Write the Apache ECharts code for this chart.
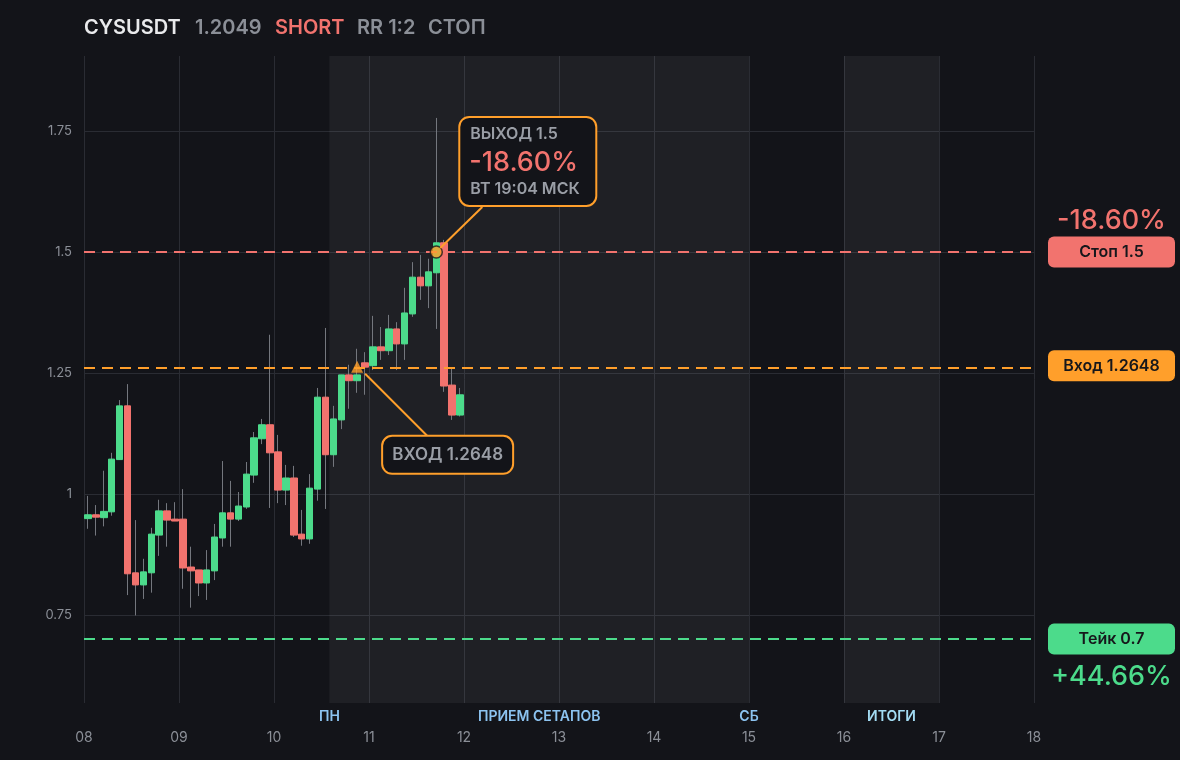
<!DOCTYPE html>
<html><head><meta charset="utf-8">
<script src="https://cdn.jsdelivr.net/npm/echarts@6/dist/echarts.min.js"></script>
<style>html,body{margin:0;padding:0;background:#131419;}#c{width:1180px;height:760px;}</style>
</head><body><div id="c"></div>
<script>
// time of each 2h candle, hours from 08 00:00 (candle centre)
const hours = [1,3,5,7,9,11,13,15,17,19,21,23,25,27,29,31,33,35,37,39,41,43,45,47,
               49,51,53,55,57,59,61,63,65,67,69,71,73,75,77,79,81,83,85,87,89,91,93,95];
const openV  = [0.949,0.957,0.951,0.963,1.071,1.182,0.837,0.812,0.837,0.915,0.965,0.948,
                0.948,0.849,0.843,0.816,0.841,0.909,0.961,0.948,0.973,1.039,1.114,1.143,
                1.087,1.008,1.033,0.917,0.907,1.010,1.200,1.081,1.153,1.246,1.234,1.271,
                1.265,1.304,1.296,1.341,1.310,1.372,1.448,1.430,1.457,1.519,1.225,1.163];
const closeV = [0.957,0.952,0.964,1.072,1.182,0.835,0.812,0.839,0.917,0.965,0.946,0.944,
                0.847,0.841,0.816,0.843,0.911,0.961,0.948,0.975,1.041,1.116,1.143,1.085,
                1.008,1.033,0.915,0.907,1.012,1.200,1.081,1.155,1.246,1.234,1.246,1.262,
                1.304,1.296,1.341,1.310,1.374,1.448,1.430,1.459,1.519,1.223,1.163,1.2049];
const lowV   = [0.928,0.914,0.933,0.955,1.071,0.791,0.749,0.783,0.796,0.872,0.891,0.944,
                0.804,0.765,0.789,0.781,0.822,0.891,0.891,0.944,0.969,1.023,1.103,0.971,
                0.981,0.977,0.911,0.893,0.897,0.986,0.969,1.056,1.134,1.176,1.209,1.205,
                1.256,1.277,1.287,1.256,1.277,1.366,1.401,1.384,1.341,1.211,1.153,1.160];
const highV  = [0.996,0.977,1.048,1.085,1.194,1.227,0.946,0.866,0.930,0.988,0.981,0.983,
                1.010,0.891,0.843,0.884,0.938,1.068,1.027,1.004,1.066,1.128,1.155,1.329,
                1.122,1.060,1.058,0.967,1.041,1.219,1.343,1.182,1.246,1.267,1.300,1.293,
                1.368,1.345,1.370,1.355,1.426,1.479,1.494,1.486,1.777,1.525,1.262,1.219];

const dayLabels = ['08','09','10','11','12','13','14','15','16','17','18'];
const yTicks = [0.75, 1, 1.25, 1.5, 1.75];

const entryPrice = 1.2648, entryHour = 69;
const stopPrice = 1.5, exitHour = 89;
const takePrice = 0.7;
const setupZone = [62, 168];   // ПН .. СБ
const resultZone = [192, 216]; // ИТОГИ

const GREEN = '#4cdb8b', RED = '#f2736e', ORANGE = '#ff9f2b', WICK = '#74777e';
const BG = '#131419', TXT = '#8b8f97', FONT = 'Inter';

const chart = echarts.init(document.getElementById('c'));
const option = {
  backgroundColor: BG,
  animation: false,
  textStyle: {fontFamily: FONT},
  grid: {left: 84, right: 146, top: 56, bottom: 57},
  xAxis: {
    type: 'value', min: 0, max: 240, interval: 24,
    axisLine: {show: false}, axisTick: {show: false},
    splitLine: {lineStyle: {color: '#2a2c33', width: 1}},
    axisLabel: {formatter: v => dayLabels[Math.round(v / 24)], color: TXT, fontSize: 14, margin: 28, fontFamily: FONT}
  },
  yAxis: {
    type: 'value', min: 0.568, max: 1.905, scale: true,
    axisLine: {show: false}, axisTick: {show: false, customValues: yTicks},
    splitLine: {lineStyle: {color: '#2a2c33', width: 1}},
    axisLabel: {customValues: yTicks, color: TXT, fontSize: 13, margin: 12, fontFamily: FONT}
  },
  series: [
    {
      type: 'candlestick', name: 'wick', barWidth: 0.01, silent: true,
      data: hours.map((h, i) => [h, openV[i], closeV[i], lowV[i], highV[i]]),
      itemStyle: {color: WICK, color0: WICK, borderColor: WICK, borderColor0: WICK, borderWidth: 1},
      markArea: {
        silent: true,
        itemStyle: {color: 'rgba(255,255,255,0.055)'},
        data: [[{xAxis: setupZone[0]}, {xAxis: setupZone[1]}], [{xAxis: resultZone[0]}, {xAxis: resultZone[1]}]]
      }
    },
    {
      type: 'candlestick', name: 'body', barWidth: 7, silent: true,
      data: hours.map((h, i) => [h, openV[i], closeV[i], Math.min(openV[i], closeV[i]), Math.max(openV[i], closeV[i])]),
      itemStyle: {color: GREEN, color0: RED, borderColor: GREEN, borderColor0: RED, borderWidth: 1},
      markLine: {
        silent: true, symbol: 'none', label: {show: false},
        lineStyle: {type: [11, 7], width: 1.8},
        data: [
          {yAxis: stopPrice, lineStyle: {color: RED}},
          {yAxis: entryPrice, lineStyle: {color: ORANGE}},
          {yAxis: takePrice, lineStyle: {color: GREEN}}
        ]
      }
    },
    {
      type: 'scatter', symbol: 'triangle', symbolSize: [12, 12], symbolOffset: [0, 1], z: 5,
      data: [[entryHour, entryPrice]], itemStyle: {color: ORANGE}
    },
    {
      type: 'scatter', symbol: 'circle', symbolSize: 12, z: 5,
      data: [[exitHour, stopPrice]], itemStyle: {color: ORANGE, borderColor: '#1a1a1a', borderWidth: 1.5}
    }
  ]
};
chart.setOption(option);

const px = (x, y) => chart.convertToPixel({gridIndex: 0}, [x, y]);
const g = [];
function txt(x, y, text, fill, size, weight, align) {
  g.push({type: 'text', z: 100, x: x, y: y,
    style: {text: text, fill: fill, fontSize: size, fontWeight: weight || 600, fontFamily: FONT,
            align: align || 'left', verticalAlign: 'middle'}});
}
// header
txt(84, 28, 'CYSUSDT', '#e9eaec', 20, 600);
txt(195, 28, '1.2049', TXT, 20, 600);
txt(275, 28, 'SHORT', RED, 20, 600);
txt(357, 28, 'RR 1:2', TXT, 20, 600);
txt(428, 28, 'СТОП', TXT, 20, 600);

// zone labels under the axis
const by = 717;
txt(px(setupZone[0], 1)[0], by, 'ПН', '#8cc3f0', 14, 600, 'center');
txt(px((setupZone[0] + setupZone[1]) / 2, 1)[0], by, 'ПРИЕМ СЕТАПОВ', '#8cc3f0', 14, 600, 'center');
txt(px(setupZone[1], 1)[0], by, 'СБ', '#8cc3f0', 14, 600, 'center');
txt(px((resultZone[0] + resultZone[1]) / 2, 1)[0], by, 'ИТОГИ', '#a3dcf3', 14, 600, 'center');

// right badges
const xr = px(240, 1)[0];
function badge(price, text, color) {
  const y = px(240, price)[1];
  g.push({type: 'rect', z: 100, shape: {x: xr + 14, y: y - 15.5, width: 127, height: 31, r: 6}, style: {fill: color}});
  txt(xr + 14 + 63.5, y, text, '#16171b', 16, 600, 'center');
  return y;
}
const ys = badge(stopPrice, 'Стоп 1.5', RED);
badge(entryPrice, 'Вход 1.2648', ORANGE);
const yt = badge(takePrice, 'Тейк 0.7', GREEN);
txt(xr + 77.5, ys - 31, '-18.60%', RED, 27, 500, 'center');
txt(xr + 77.5, yt + 38, '+44.66%', GREEN, 27, 500, 'center');

// exit callout
const pe = px(exitHour, stopPrice);
const ex = pe[0] + 23, ey = pe[1] - 135;
g.push({type: 'line', z: 99, shape: {x1: pe[0] + 4, y1: pe[1] - 4, x2: pe[0] + 46, y2: pe[1] - 45}, style: {stroke: ORANGE, lineWidth: 2}});
g.push({type: 'rect', z: 100, shape: {x: ex, y: ey, width: 137, height: 89, r: 10}, style: {fill: BG, stroke: ORANGE, lineWidth: 2}});
txt(ex + 11, ey + 17, 'ВЫХОД 1.5', '#9a9ea6', 16, 600);
txt(ex + 10, ey + 46, '-18.60%', RED, 27, 500);
txt(ex + 11, ey + 72, 'ВТ 19:04 МСК', '#9a9ea6', 16, 600);

// entry callout
const pn = px(entryHour, entryPrice);
const nx = pn[0] + 25, ny = pn[1] + 70;
g.push({type: 'line', z: 99, shape: {x1: pn[0] + 8, y1: pn[1] + 8, x2: pn[0] + 70, y2: pn[1] + 70}, style: {stroke: ORANGE, lineWidth: 2}});
g.push({type: 'rect', z: 100, shape: {x: nx, y: ny, width: 131, height: 38, r: 10}, style: {fill: BG, stroke: ORANGE, lineWidth: 2}});
txt(nx + 65.5, ny + 19, 'ВХОД 1.2648', '#9a9ea6', 17, 600, 'center');

chart.setOption({graphic: g});
</script>
</body></html>
